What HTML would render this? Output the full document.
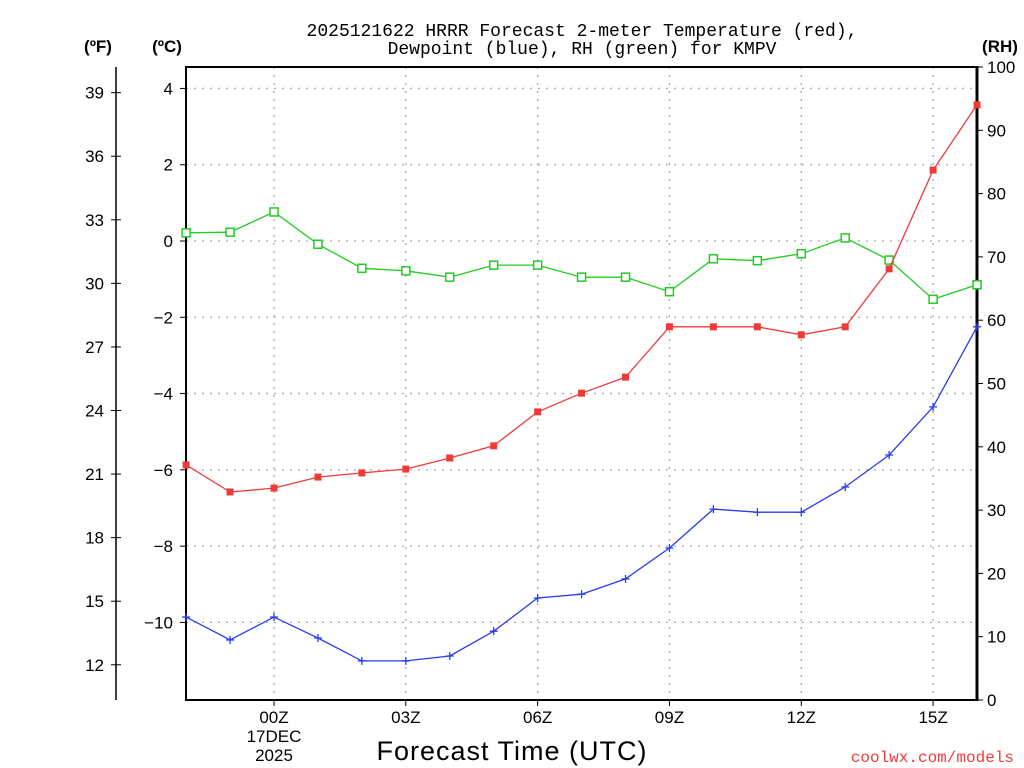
<!DOCTYPE html>
<html><head><meta charset="utf-8"><style>
body{margin:0;background:#fff}
svg{display:block}
text{font-family:"Liberation Sans",sans-serif;fill:#000}
</style></head><body>
<svg id="chart" width="1024" height="768" viewBox="0 0 1024 768" xmlns="http://www.w3.org/2000/svg">
<text x="582" y="36" font-size="18" text-anchor="middle" style="font-family:'Liberation Mono',monospace">2025121622 HRRR Forecast 2-meter Temperature (red),</text>
<text x="582" y="54" font-size="18" text-anchor="middle" style="font-family:'Liberation Mono',monospace">Dewpoint (blue), RH (green) for KMPV</text>
<text x="98" y="52" font-size="17" font-weight="bold" text-anchor="middle">(ºF)</text>
<text x="167" y="52" font-size="17" font-weight="bold" text-anchor="middle">(ºC)</text>
<text x="1000" y="52" font-size="17" font-weight="bold" text-anchor="middle">(RH)</text>
<text x="512" y="760" font-size="27" text-anchor="middle" letter-spacing="1">Forecast Time (UTC)</text>
<text x="1014" y="762" font-size="16" text-anchor="end" style="fill:#f03a3a;font-family:'Liberation Mono',monospace">coolwx.com/models</text>
<g id="grid"></g><g id="axes"></g><g id="series"></g>
</svg>
<script>
const hours=[-2,-1,0,1,2,3,4,5,6,7,8,9,10,11,12,13,14,15,16];
const tempC=[-5.87,-6.58,-6.48,-6.19,-6.08,-5.98,-5.69,-5.37,-4.48,-3.99,-3.57,-2.25,-2.25,-2.25,-2.46,-2.25,-0.73,1.86,3.57];
const dewC=[-9.86,-10.46,-9.86,-10.41,-11.01,-11.01,-10.88,-10.23,-9.36,-9.26,-8.86,-8.05,-7.03,-7.11,-7.11,-6.45,-5.61,-4.35,-2.25];
const rh=[73.8,73.9,77.1,72.0,68.2,67.8,66.8,68.7,68.7,66.8,66.8,64.5,69.7,69.4,70.5,73.0,69.5,63.3,65.6];
const cTicks=[4,2,0,-2,-4,-6,-8,-10];
const fTicks=[39,36,33,30,27,24,21,18,15,12];
const rhTicks=[0,10,20,30,40,50,60,70,80,90,100];
const xTickHours=[0,3,6,9,12,15];
const xTickLabels=["00Z","03Z","06Z","09Z","12Z","15Z"];

const NS="http://www.w3.org/2000/svg";
const L=186,R=977,T=67,B=700;
const xS=h=>274+h*43.94;
const yC=c=>241-c*38.14;
const yF=f=>yC((f-32)/1.8);
const yR=r=>B-(r/100)*(B-T);
function mk(tag,attrs,parent,txt){const e=document.createElementNS(NS,tag);for(const k in attrs)e.setAttribute(k,attrs[k]);if(txt!==undefined)e.textContent=txt;document.getElementById(parent).appendChild(e);return e;}

cTicks.forEach(c=>{const e=mk('line',{x1:L,x2:R,y1:yC(c),y2:yC(c),stroke:'#aaa','stroke-dasharray':'2,6','stroke-width':1.3},'grid');

});
xTickHours.forEach(h=>{const e=mk('line',{x1:xS(h),x2:xS(h),y1:T,y2:B,stroke:'#aaa','stroke-dasharray':'2,6','stroke-width':1.3},'grid');

});

let fr=mk('rect',{x:L,y:T,width:R-L,height:B-T,fill:'none',stroke:'#000','stroke-width':2},'axes');


let ra=mk('line',{x1:R,x2:R,y1:T-1,y2:B+1,stroke:'#000','stroke-width':3},'axes');


let fa=mk('line',{x1:116,x2:116,y1:T,y2:B,stroke:'#000','stroke-width':1.5},'axes');



cTicks.forEach(c=>{mk('line',{x1:L-6,x2:L,y1:yC(c),y2:yC(c),stroke:'#000'},'axes');
const t=mk('text',{x:L-13,y:yC(c)+6,'font-size':17,'text-anchor':'end'},'axes',c<0?'\u2212'+(-c):String(c));

});
fTicks.forEach(f=>{mk('line',{x1:111,x2:121,y1:yF(f),y2:yF(f),stroke:'#000'},'axes');
const t=mk('text',{x:104,y:yF(f)+6,'font-size':17,'text-anchor':'end'},'axes',String(f));

});
rhTicks.forEach(r=>{mk('line',{x1:R,x2:R+6,y1:yR(r),y2:yR(r),stroke:'#000'},'axes');
const t=mk('text',{x:R+10,y:yR(r)+6,'font-size':17},'axes',String(r));

});
xTickHours.forEach((h,i)=>{mk('line',{x1:xS(h),x2:xS(h),y1:B,y2:B+6,stroke:'#000'},'axes');
const t=mk('text',{x:xS(h),y:B+23,'font-size':17,'text-anchor':'middle'},'axes',xTickLabels[i]);

});
let d1=mk('text',{x:xS(0),y:B+42,'font-size':17,'text-anchor':'middle'},'axes','17DEC');


let d2=mk('text',{x:xS(0),y:B+61,'font-size':17,'text-anchor':'middle'},'axes','2025');



function series(vals,yf,color,kind,name){
  const pts=hours.map((h,i)=>xS(h).toFixed(1)+','+yf(vals[i]).toFixed(1)).join(' ');
  const pl=mk('polyline',{points:pts,fill:'none',stroke:color,'stroke-width':1.3},'series');
  
  
  hours.forEach((h,i)=>{const x=xS(h),y=yf(vals[i]);let m;
    if(kind==='fill')m=mk('rect',{x:x-3.5,y:y-3.5,width:7,height:7,fill:color},'series');
    else if(kind==='open')m=mk('rect',{x:x-4,y:y-4,width:8,height:8,fill:'#fff',stroke:color,'stroke-width':1.5},'series');
    else m=mk('path',{d:`M${x-4},${y}H${x+4}M${x},${y-4}V${y+4}`,stroke:color,'stroke-width':1.3},'series');
    
    });
}
series(rh,yR,'#22cc22','open','rh');
series(tempC,yC,'#f03a3a','fill','temperature');
series(dewC,yC,'#2a3cf0','plus','dewpoint');
</script>
</body></html>
